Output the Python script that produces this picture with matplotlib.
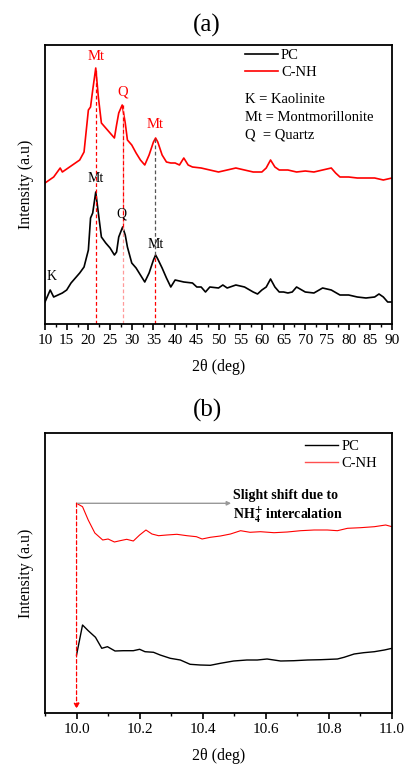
import matplotlib
matplotlib.use("Agg")
import matplotlib.pyplot as plt
from matplotlib.lines import Line2D
from matplotlib.ticker import MultipleLocator, NullLocator

plt.rcParams['font.family'] = ['Liberation Serif', 'DejaVu Serif']
plt.rcParams['mathtext.fontset'] = 'stix'

# ---- panel (a): full XRD scan ----
theta_pc = [10, 11.2, 12, 13, 14, 15, 16, 17, 18, 19, 20, 20.5, 21, 21.7, 22.3, 23, 24, 25, 26, 26.5,
            27, 27.9, 28.5, 29, 30, 31, 32, 33, 34, 35, 35.5, 36, 37, 38, 39, 40, 42, 44, 45, 46,
            47, 48, 50, 51, 52, 54, 56, 58, 59, 60, 61, 62, 63, 64, 65, 66, 67, 68, 70, 72,
            74, 76, 78, 80, 82, 84, 86, 87, 88, 89, 90]
int_pc = [22, 34, 27, 29, 31, 34, 41, 46, 51, 57, 74, 106, 111, 132, 111, 87, 81, 76, 69, 72,
          87, 97, 89, 77, 61, 56, 49, 42, 51, 64, 69, 65, 56, 46, 37, 44, 42, 41, 37, 37,
          32, 37, 36, 39, 36, 39, 37, 32, 30, 34, 37, 45, 37, 32, 32, 31, 32, 37, 32, 31,
          36, 34, 29, 29, 27, 26, 27, 30, 27, 22, 22]

theta_cnh = [10, 12, 13.5, 14, 16, 18, 19, 20, 20.5, 21, 21.7, 22.3, 23, 24, 25, 26, 26.5, 27, 27.8, 28.5,
             29, 30, 31, 32, 33, 34, 35, 35.5, 36, 37, 38, 39, 40, 41, 42, 43, 44, 46, 48, 50,
             52, 54, 56, 58, 60, 61, 62, 63, 64, 66, 68, 70, 72, 74, 76, 77, 78, 80, 82, 84,
             86, 88, 90]
int_cnh = [141, 147, 156, 152, 158, 164, 172, 214, 217, 234, 256, 227, 201, 196, 191, 186, 199, 211, 219, 201,
           184, 179, 171, 164, 159, 169, 182, 186, 182, 169, 162, 161, 161, 159, 166, 159, 157, 156, 154, 152,
           154, 156, 154, 152, 152, 156, 164, 157, 154, 154, 152, 153, 152, 154, 156, 151, 147, 147, 146, 146,
           146, 144, 146]

# peak labels: (text, 2theta, intensity)
peaks_cnh = [("Mt", 21.7, 268), ("Q", 27.9, 232), ("Mt", 35.4, 199)]
peaks_pc = [("Mt", 21.7, 145), ("Q", 27.7, 110), ("Mt", 35.6, 80), ("K", 11.5, 48)]
guide_x = [21.7, 27.9, 35.4]

# ---- panel (b): zoom near 10 deg ----
theta_b_pc = [10.0, 10.019, 10.037, 10.06, 10.08, 10.098, 10.122, 10.148, 10.18, 10.2, 10.217, 10.244,
              10.265, 10.297, 10.329, 10.36, 10.392, 10.424, 10.456, 10.498, 10.54, 10.573, 10.604,
              10.647, 10.689, 10.732, 10.774, 10.827, 10.848, 10.88, 10.91, 10.944, 10.976, 11.0]
int_b_pc = [58, 88, 82.3, 75.7, 64.7, 66.3, 62, 62.3, 62.3, 63.7, 61.3, 60.7,
            58, 54.7, 53, 48.7, 48, 47.7, 49.7, 52, 53, 53, 54,
            52, 52.3, 53, 53.3, 54, 55.7, 59, 60.3, 61.3, 63, 64.7]

theta_b_cnh = [10.0, 10.019, 10.037, 10.058, 10.083, 10.1, 10.12, 10.138, 10.159, 10.18, 10.2, 10.22,
               10.239, 10.26, 10.286, 10.318, 10.35, 10.38, 10.398, 10.424, 10.456, 10.488, 10.52,
               10.55, 10.583, 10.626, 10.668, 10.71, 10.753, 10.795, 10.827, 10.859, 10.9, 10.944,
               10.98, 11.0]
int_b_cnh = [209.7, 206.3, 193, 180, 173, 174, 171, 172.3, 173.7, 172, 178, 183,
             179, 177.3, 178, 178.7, 177.3, 176.3, 174, 175.7, 177, 179, 182.3,
             180.7, 181.3, 180.3, 181, 182.3, 183, 183, 182.3, 184.7, 185.3, 186.3,
             188, 186.3]

W, H = 404, 765
fig = plt.figure(figsize=(W / 100, H / 100), dpi=100)
ax1 = fig.add_axes([45 / W, 1 - 324 / H, 347 / W, 279 / H])
ax2 = fig.add_axes([45 / W, 1 - 713 / H, 347 / W, 280 / H])

for ax in (ax1, ax2):
    for s in ax.spines.values():
        s.set_linewidth(1.3)
    ax.yaxis.set_major_locator(NullLocator())
    ax.yaxis.set_minor_locator(NullLocator())
    ax.tick_params(axis='x', which='major', direction='out', length=4, width=1.2,
                   labelsize=11, pad=3)
    ax.tick_params(axis='x', which='minor', direction='out', length=2.5, width=1.0)
    ax.set_ylabel("Intensity (a.u)", fontsize=11.5, labelpad=8)
    ax.set_xlabel("2θ (deg)", fontsize=11.5, labelpad=9)

# panel (a)
ax1.plot(theta_cnh, int_cnh, color='red', lw=1.2, label='C-NH')
ax1.plot(theta_pc, int_pc, color='black', lw=1.2, label='PC')
ax1.set_xlim(10, 90)
ax1.set_ylim(0, 279)
ax1.xaxis.set_major_locator(MultipleLocator(5))
ax1.xaxis.set_minor_locator(MultipleLocator(2.5))

ax1.plot([guide_x[0], guide_x[0]], [0, 256], color='red', ls=(0, (3, 2)), lw=0.9)
ax1.plot([guide_x[1], guide_x[1]], [0, 219], color='#ff9a9a', ls=(0, (3, 2)), lw=0.9)
ax1.plot([guide_x[1], guide_x[1]], [97, 219], color='red', ls=(0, (3, 2)), lw=0.9)
ax1.plot([guide_x[2], guide_x[2]], [69, 186], color='#555555', ls=(0, (3, 2)), lw=0.9)
ax1.plot([guide_x[2], guide_x[2]], [0, 69], color='red', ls=(0, (3, 2)), lw=0.9)

for txt, x, y in peaks_cnh:
    ax1.text(x, y, txt, color='red', fontsize=10.5, ha='center', va='center')
for txt, x, y in peaks_pc:
    ax1.text(x, y, txt, color='black', fontsize=10, ha='center', va='center')

h1 = [Line2D([], [], color='black', lw=1.2), Line2D([], [], color='red', lw=1.2)]
ax1.legend(h1, ['PC', 'C-NH'], loc='upper left', bbox_to_anchor=(0.575, 0.985),
           frameon=False, fontsize=10.5, handlelength=2.3, handletextpad=0.2,
           labelspacing=0.25, borderaxespad=0, borderpad=0)
defs = ["K = Kaolinite", "Mt = Montmorillonite", "Q  = Quartz"]
for i, d in enumerate(defs):
    ax1.text(0.577, 0.806 - i * 0.065, d, transform=ax1.transAxes, fontsize=10.5,
             ha='left', va='center')

fig.text(207 / W, 1 - 25 / H, "(a)", fontsize=18, ha='center', va='center')

# panel (b)
ax2.plot(theta_b_pc, int_b_pc, color='black', lw=1.0, label='PC')
ax2.plot(theta_b_cnh, int_b_cnh, color='red', lw=0.8, label='C-NH')
ax2.set_xlim(9.9, 11.0)
ax2.set_ylim(0, 280)
ax2.xaxis.set_major_locator(MultipleLocator(0.2))
ax2.xaxis.set_minor_locator(MultipleLocator(0.1))
ax2.xaxis.set_major_formatter(matplotlib.ticker.FormatStrFormatter('%.1f'))

h2 = [Line2D([], [], color='black', lw=1.0), Line2D([], [], color='#ff5050', lw=1.0)]
ax2.legend(h2, ['PC', 'C-NH'], loc='upper left', bbox_to_anchor=(0.749, 0.975),
           frameon=False, fontsize=10.5, handlelength=2.3, handletextpad=0.2,
           labelspacing=0.25, borderaxespad=0, borderpad=0)

ax2.annotate("", xy=(10.49, int_b_cnh[0]), xytext=(10.0, int_b_cnh[0]),
             arrowprops=dict(arrowstyle='-|>', color='#999999', lw=1.0,
                             mutation_scale=6, shrinkA=0, shrinkB=0))
ax2.annotate("", xy=(10.0, 4), xytext=(10.0, int_b_cnh[0]),
             arrowprops=dict(arrowstyle='-|>', color='red', lw=0.9, ls=(0, (3, 2)),
                             mutation_scale=8, shrinkA=0, shrinkB=0))
ax2.text(10.495, 218, "Slight shift due to", fontsize=10, fontweight='bold',
         ha='left', va='center')
ax2.text(10.495, 198, r"NH$_\mathbf{4}^\mathbf{+}$ intercalation", fontsize=10,
         fontweight='bold', ha='left', va='center')

fig.text(207 / W, 1 - 410 / H, "(b)", fontsize=18, ha='center', va='center')

fig.savefig("out.png", dpi=100)
